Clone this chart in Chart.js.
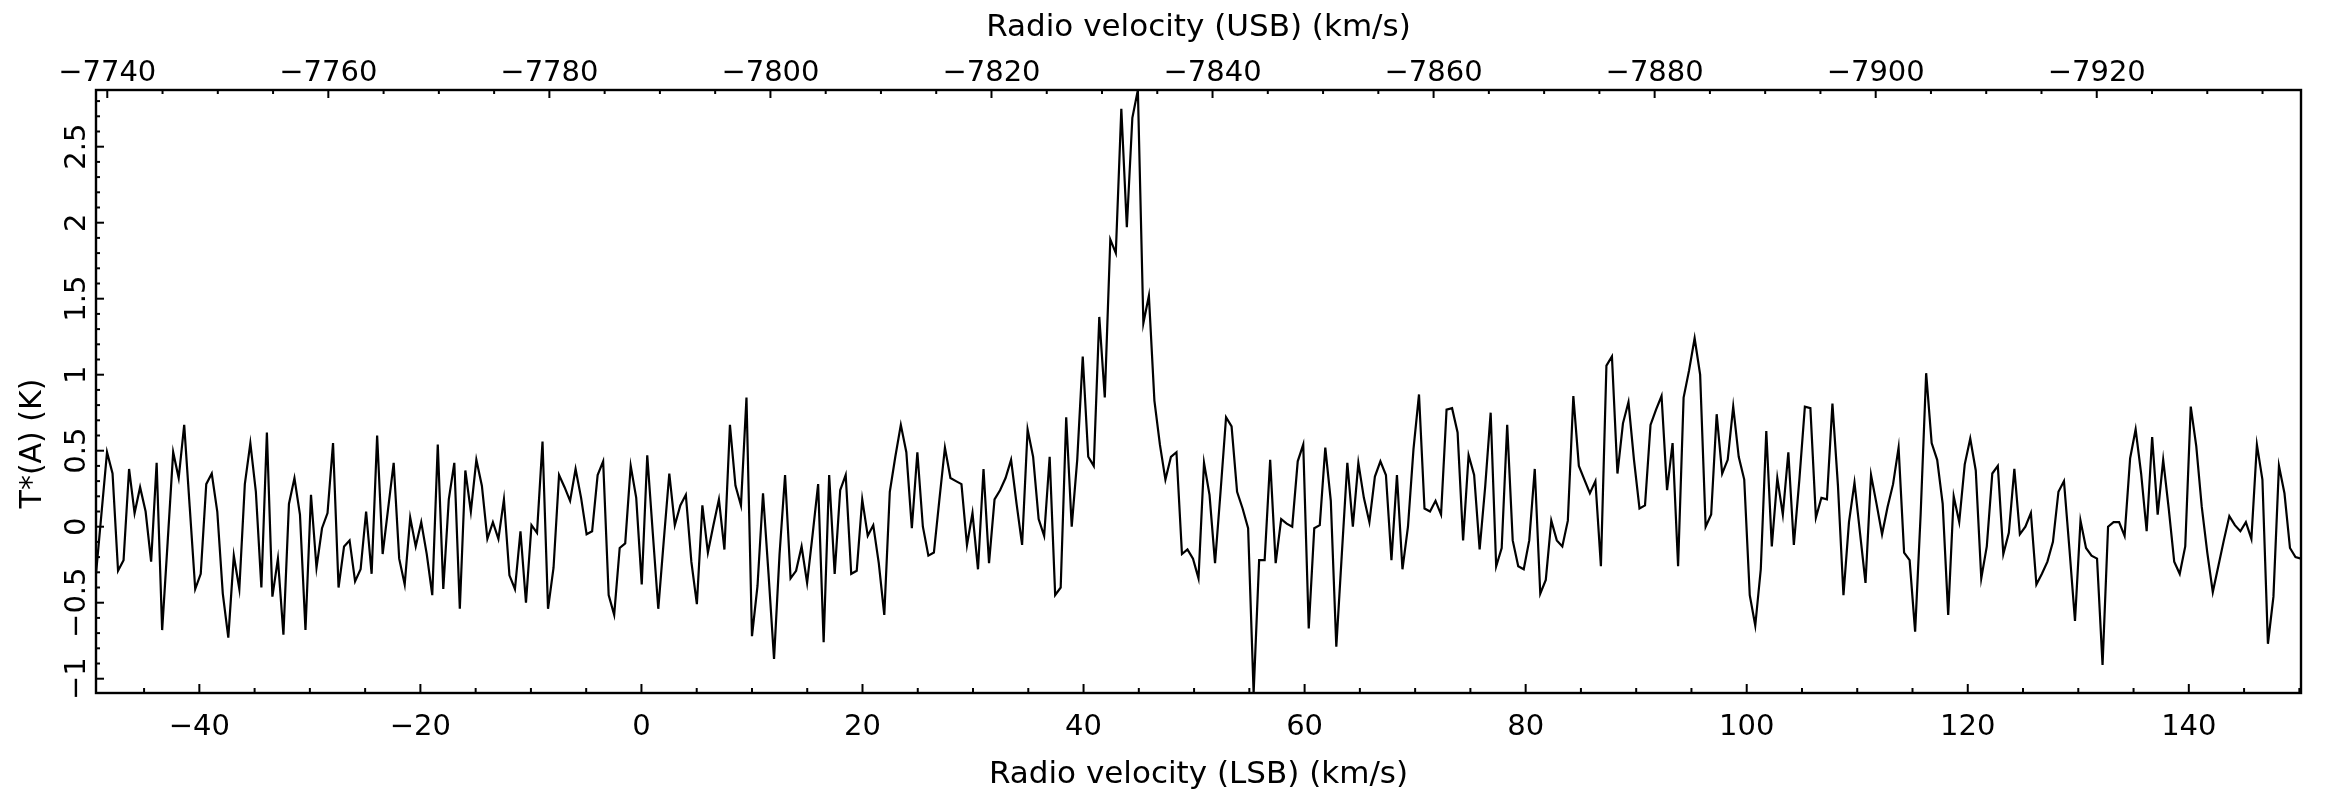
<!DOCTYPE html>
<html><head><meta charset="utf-8">
<script src="https://cdn.jsdelivr.net/npm/chart.js@4.4.1/dist/chart.umd.min.js"></script>
<style>html,body{margin:0;padding:0;background:#fff}canvas{display:block}</style>
</head><body>
<canvas id="c" width="2327" height="799"></canvas>
<script>
// ---- data: antenna temperature T*(A) (K) per channel ----
const V0 = -49.35;          // LSB velocity of first channel (km/s)
const DV = 0.49875;         // channel width (km/s)
const TA_A = [-0.31,0.09,0.49,0.35,-0.29,-0.22,0.38,0.09,0.26,0.10,
  -0.23,0.42,-0.68,-0.10,0.49,0.32,0.67,0.13,-0.41,-0.31,
  0.28,0.35,0.10,-0.44,-0.73,-0.19,-0.41,0.28,0.55,0.23,
  -0.40,0.62,-0.46,-0.21,-0.71,0.15,0.32,0.08,-0.68,0.21];
const TA_B = [-0.27,-0.01,0.09,0.55,-0.40,-0.13,-0.09,-0.36,-0.28,0.10,
  -0.31,0.60,-0.18,0.12,0.42,-0.21,-0.38,0.06,-0.13,0.03,
  -0.18,-0.45,0.54,-0.41,0.18,0.42,-0.54,0.37,0.10,0.44,
  0.27,-0.08,0.03,-0.08,0.18,-0.32,-0.41,-0.03,-0.50,0.01];
const TA_C = [-0.04,0.56,-0.54,-0.27,0.34,0.26,0.17,0.38,0.19,-0.05,
  -0.03,0.34,0.43,-0.45,-0.58,-0.14,-0.11,0.40,0.19,-0.38,
  0.47,-0.04,-0.54,-0.09,0.35,0.01,0.14,0.21,-0.23,-0.51,
  0.14,-0.17,0.01,0.18,-0.15,0.67,0.27,0.14,0.85,-0.72,
  -0.39];
const TA_D = [0.22,-0.31,-0.87,-0.18,0.34,-0.34,-0.29,-0.13,-0.37,-0.05,
  0.28,-0.76,0.34,-0.31,0.24,0.34,-0.31,-0.29,0.18,-0.06,
  0.01,-0.24,-0.58,0.23,0.46,0.67,0.49,-0.01,0.49,0.00,
  -0.19,-0.17,0.18,0.52,0.32,0.30,0.28,-0.12,0.09,-0.28];
const TA_E = [0.38,-0.24,0.18,0.24,0.32,0.44,0.15,-0.12,0.64,0.46,
  0.05,-0.06,0.46,-0.45,-0.40,0.72,0.00,0.44,1.12,0.46,
  0.40,1.38,0.85,1.89,1.80,2.75,1.97,2.69,2.873,1.34,
  1.52,0.83,0.54,0.31,0.46,0.49,-0.18,-0.15,-0.21,-0.34];
const TA_F = [0.42,0.21,-0.24,0.23,0.72,0.66,0.23,0.12,-0.01,-1.094,
  -0.22,-0.22,0.44,-0.24,0.05,0.02,0.00,0.43,0.54,-0.67,
  -0.01,0.01,0.52,0.17,-0.79,-0.18,0.42,0.00,0.42,0.19,
  0.03,0.33,0.43,0.34,-0.22,0.34,-0.28,0.00,0.51,0.87];
const TA_G = [0.12,0.10,0.17,0.08,0.77,0.78,0.62,-0.09,0.47,0.34,-0.15,
  0.26,0.75,-0.26,-0.14,0.67,-0.09,-0.26,-0.28,-0.09,0.38,
  -0.44,-0.35,0.04,-0.09,-0.13,0.04,0.86,0.40,0.31,0.22,
  0.30,-0.26,1.06,1.12,0.35,0.68,0.82,0.44,0.12,0.14];
const TA_H = [0.67,0.77,0.86,0.24,0.55,-0.26,0.85,1.03,1.24,1.00,
  0.00,0.08,0.74,0.35,0.44,0.79,0.46,0.31,-0.45,-0.65,
  -0.28,0.63,-0.13,0.32,0.08,0.49,-0.12,0.31,0.79,0.78,
  0.06,0.19,0.18,0.81,0.27,-0.45,0.03,0.29,-0.04,-0.37];
const TA_I = [0.34,0.15,-0.05,0.13,0.28,0.52,-0.17,-0.22,-0.69,0.08,
  1.01,0.55,0.44,0.15,-0.58,0.20,0.03,0.41,0.58,0.37,
  -0.34,-0.13,0.35,0.40,-0.18,-0.04,0.38,-0.05,0.00,0.09,
  -0.38,-0.31,-0.23,-0.10,0.23,0.30,-0.15,-0.62,0.04,-0.14];
const TA_J = [-0.19,-0.21,-0.91,0.00,0.03,0.03,-0.06,0.45,0.64,0.35,
  -0.03,0.59,0.08,0.44,0.12,-0.23,-0.31,-0.13,0.79,0.53,
  0.13,-0.17,-0.43,-0.26,-0.09,0.07,0.01,-0.03,0.03,-0.08,
  0.54,0.31,-0.77,-0.46,0.40,0.22,-0.14,-0.20,-0.21];

// ---- axes ----
const X_MIN = -49.35, X_MAX = 150.15;      // LSB velocity range
const Y_MIN = -1.094, Y_MAX = 2.873;       // T*(A) range
const USB_OFFSET = -7788.33;               // USB velocity = USB_OFFSET - LSB velocity
const X_STEP = 20, X_MINOR = 5, Y_STEP = 0.5, Y_MINOR = 0.1;
const TITLE_X = 'Radio velocity (LSB) (km/s)';
const TITLE_X2 = 'Radio velocity (USB) (km/s)';
const TITLE_Y = 'T*(A) (K)';

const TA = [].concat(TA_A, TA_B, TA_C, TA_D, TA_E, TA_F, TA_G, TA_H, TA_I, TA_J);
const VLSB = TA.map((_, i) => V0 + i * DV);
const points = TA.map((t, i) => ({x: VLSB[i], y: t}));

const FONT = '"DejaVu Sans", "Open Sans", sans-serif';
const fmt = v => String(Math.round(v * 100) / 100).replace('-', '\u2212');

const frame = {
  id: 'frame',
  afterDatasetsDraw(chart) {
    const {ctx, chartArea: a, scales} = chart;
    ctx.save();
    ctx.strokeStyle = '#000';
    ctx.lineWidth = 2;
    const seg = (x1, y1, x2, y2) => { ctx.beginPath(); ctx.moveTo(x1, y1); ctx.lineTo(x2, y2); ctx.stroke(); };
    const isMul = (v, m) => Math.abs(v / m - Math.round(v / m)) < 1e-6;
    const sx = scales.x;
    for (let v = Math.ceil(sx.min / X_MINOR) * X_MINOR; v <= sx.max; v += X_MINOR) {
      const p = sx.getPixelForValue(v);
      seg(p, a.bottom, p, a.bottom - (isMul(v, X_STEP) ? 9 : 5));
    }
    const s2 = scales.x2;
    for (let v = Math.ceil(s2.min / X_MINOR) * X_MINOR; v <= s2.max; v += X_MINOR) {
      const p = s2.getPixelForValue(v);
      seg(p, a.top, p, a.top + (isMul(v, X_STEP) ? 8 : 4));
    }
    const sy = scales.y;
    for (let k = Math.ceil(sy.min / Y_MINOR); k <= Math.floor(sy.max / Y_MINOR); k++) {
      const v = k * Y_MINOR;
      const p = sy.getPixelForValue(v);
      seg(a.left, p, a.left + (isMul(v, Y_STEP) ? 8 : 4), p);
    }
    ctx.lineWidth = 2.4;
    ctx.strokeRect(a.left, a.top, a.right - a.left, a.bottom - a.top);
    // vertical axis title
    ctx.fillStyle = '#000';
    ctx.font = '30px ' + FONT;
    ctx.textAlign = 'center';
    ctx.textBaseline = 'middle';
    ctx.translate(33, (a.top + a.bottom) / 2 + 52);
    ctx.rotate(-Math.PI / 2);
    ctx.fillText(TITLE_Y, 0, 0);
    ctx.restore();
  }
};

const tickFont = {family: FONT, size: 29};
const titleFont = {family: FONT, size: 31};
const noGrid = {display: false, drawTicks: false, tickLength: 0};

new Chart(document.getElementById('c'), {
  type: 'line',
  data: {
    datasets: [{
      data: points,
      borderColor: '#000',
      borderWidth: 2.2,
      pointRadius: 0,
      tension: 0,
      fill: false,
      xAxisID: 'x',
      yAxisID: 'y'
    }]
  },
  options: {
    responsive: false,
    animation: false,
    devicePixelRatio: 1,
    layout: {padding: {left: 0, right: 26, top: 0, bottom: 0}},
    plugins: {legend: {display: false}, tooltip: {enabled: false}},
    scales: {
      x: {
        type: 'linear', position: 'bottom', min: X_MIN, max: X_MAX,
        grid: noGrid, border: {display: false},
        ticks: {stepSize: X_STEP, includeBounds: false, autoSkip: false, maxRotation: 0, minRotation: 0,
                font: tickFont, color: '#000', padding: 17, callback: v => fmt(v)},
        title: {display: true, text: TITLE_X, font: titleFont, color: '#000', padding: {top: 0, bottom: 5}},
        afterFit: s => { s.height = 106; }
      },
      x2: {
        type: 'linear', position: 'top', reverse: true,
        min: USB_OFFSET - X_MAX, max: USB_OFFSET - X_MIN,
        grid: noGrid, border: {display: false},
        ticks: {stepSize: X_STEP, includeBounds: false, autoSkip: false, maxRotation: 0, minRotation: 0,
                font: tickFont, color: '#000', padding: -1, callback: v => fmt(v)},
        title: {display: true, text: TITLE_X2, font: titleFont, color: '#000', padding: {top: 9, bottom: 0}},
        afterFit: s => { s.height = 90; }
      },
      y: {
        type: 'linear', position: 'left', min: Y_MIN, max: Y_MAX,
        grid: noGrid, border: {display: false},
        ticks: {stepSize: Y_STEP, includeBounds: false, autoSkip: false, minRotation: 90, maxRotation: 90,
                crossAlign: 'center', font: tickFont, color: '#000', padding: -17, callback: v => fmt(v)},
        afterFit: s => { s.width = 96; }
      }
    }
  },
  plugins: [frame]
});
</script>
</body></html>
